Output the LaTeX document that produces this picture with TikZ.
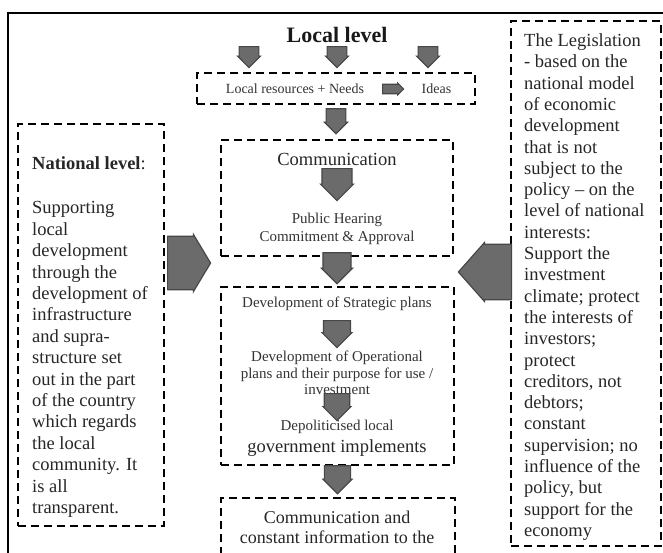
\documentclass[tikz,border=0pt]{standalone}
\usepackage{fontspec}
\setmainfont{Liberation Serif}
\usetikzlibrary{shapes.arrows,calc}

\tikzset{
  dbox/.style={draw, dash pattern=on 8pt off 5pt, line width=2.2pt},
  blockarrow/.style={single arrow, draw=black!72, fill=black!58, line width=1.2pt,
    inner xsep=0pt, single arrow head extend=1pt, anchor=tail},
  pointdown/.style={blockarrow, rotate=-90},
  smallarr/.style={pointdown, inner ysep=5.5pt, minimum width=23pt, minimum height=21pt},
  bigarr/.style={pointdown, inner ysep=9pt, minimum width=31pt, minimum height=29pt},
  bigtxt/.style={font=\fontsize{18.5}{21.4}\selectfont, text=black!85, inner sep=0pt},
  smalltxt/.style={font=\fontsize{15}{17}\selectfont, text=black!80, inner sep=0pt},
}

\begin{document}
\begin{tikzpicture}[x=1pt,y=-1pt]
\clip (0,0) rectangle (663,552);
\draw[line width=2.4pt] (8,13) rectangle (720,620);

% local level
\node[font=\bfseries\fontsize{22}{24}\selectfont, text=black!90] (local) at (337,35) {Local level};
\node[smallarr] (la1) at (249,46) {};
\node[smallarr] (la2) at (337,46) {};
\node[smallarr] (la3) at (428,46) {};
\node[dbox, minimum width=278pt, minimum height=31pt] (resources) at (336,88.5) {};
\node[font=\fontsize{14}{16}\selectfont, text=black!80, inner sep=0pt] (needs) at (295,89) {Local resources + Needs};
\node[font=\fontsize{14}{16}\selectfont, text=black!80, inner sep=0pt] (ideas) at (436.5,89) {Ideas};
\node[blockarrow, inner ysep=3pt, minimum width=12pt, minimum height=21pt] (toideas) at (382,89) {};

% communication
\node[dbox, minimum width=232pt, minimum height=116pt] (comm) at (337,198) {};
\node[bigtxt] (commtitle) at (337,159) {Communication};
\node[smalltxt, align=center, font=\fontsize{15}{18}\selectfont] (hearing) at (337,229)
  {Public Hearing\\Commitment \& Approval};
\node[bigarr, minimum width=33pt, inner ysep=9.5pt, minimum height=32pt] (commarr) at (337,168) {};
\node[smallarr, minimum height=25pt] (resarr) at ($(resources.south)+(0,3)$) {};

% plans
\node[dbox, minimum width=233pt, minimum height=178pt] (plans) at (337.5,376) {};
\node[smalltxt] (strategic) at (337,304) {Development of Strategic plans};
\node[smalltxt, align=center, font=\fontsize{15}{16.5}\selectfont] (operational) at (337,373)
  {Development of Operational\\plans and their purpose for use /\\investment};
\node[smalltxt] (deplocal) at (337,427) {Depoliticised local};
\node[bigtxt] (govimpl) at (337,448) {government implements};
\node[bigarr, minimum width=30pt, minimum height=27pt] (planarr1) at (337,320) {};
\node[bigarr, minimum width=28pt, minimum height=27pt] (planarr2) at (337,393) {};
\node[bigarr, minimum height=31pt] (commarr2) at ($(comm.south)+(0,-5)$) {};

% information
\node[dbox, minimum width=234pt, minimum height=120pt, anchor=north] (inform) at (338,497) {};
\node[bigtxt, align=center, font=\fontsize{18}{20}\selectfont] (informtext) at (337,527)
  {Communication and\\constant information to the};
\node[bigarr, minimum width=29pt, minimum height=28pt] (planarr3) at ($(plans.south)+(0,-1)$) {};

% national level
\node[dbox, minimum width=146pt, minimum height=402pt, anchor=north west] (natbox) at (17,123) {};
\node[bigtxt, align=left, anchor=north west] (nattext) at (32,156.5)
  {\textbf{National level}:\\[23pt]
   Supporting\\local\\development\\through the\\development of\\infrastructure\\and supra-\\
   structure set\\out in the part\\of the country\\which regards\\the local\\community. It\\
   is all\\transparent.};
\node[blockarrow, inner ysep=14.5pt, minimum width=57pt, minimum height=43pt,
  single arrow tip angle=118] (natarr) at (167,263) {};

% legislation
\node[dbox, minimum width=150pt, minimum height=525pt, anchor=north west] (legbox) at (510,20) {};
\node[bigtxt, align=left, anchor=north west, font=\fontsize{18.5}{21.3}\selectfont] (legtext) at (524,33.5)
  {The Legislation\\- based on the\\national model\\of economic\\development\\that is not\\
   subject to the\\policy -- on the\\level of national\\interests:\\Support the\\investment\\
   climate; protect\\the interests of\\investors;\\protect\\creditors, not\\debtors;\\
   constant\\supervision; no\\influence of the\\policy, but\\support for the\\economy};
\node[blockarrow, inner ysep=15pt, minimum width=59pt, minimum height=53pt,
  single arrow tip angle=97, rotate=180] (legarr) at (512,272) {};
\end{tikzpicture}
\end{document}
